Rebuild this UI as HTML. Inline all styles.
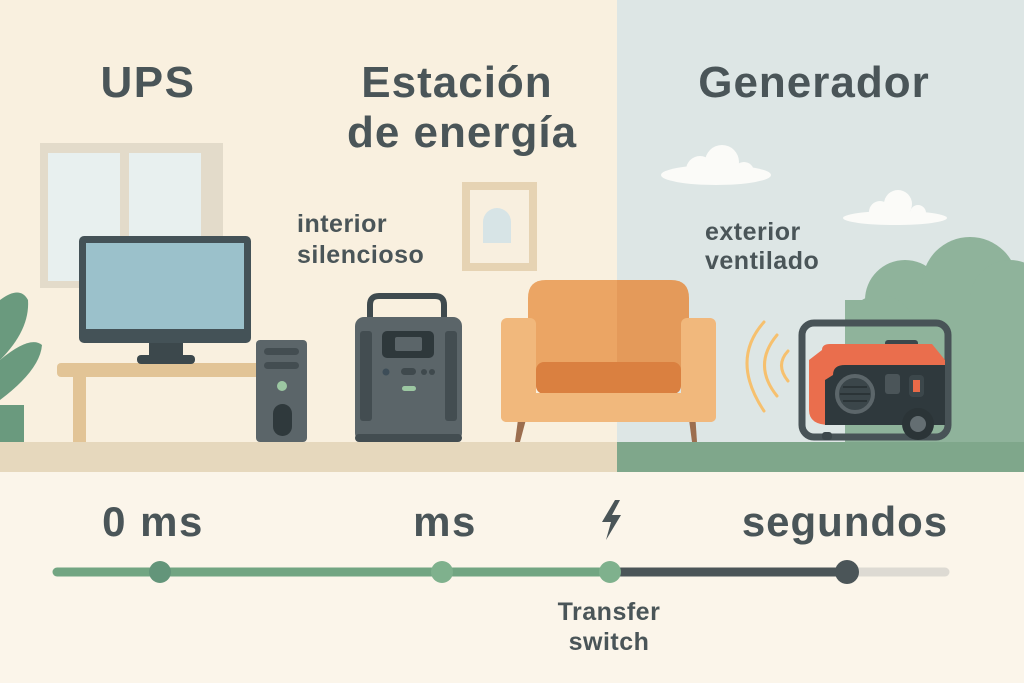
<!DOCTYPE html>
<html><head><meta charset="utf-8"><style>
html,body{margin:0;padding:0;width:1024px;height:683px;overflow:hidden;background:#fbf5ea}
svg{display:block}
text{font-family:"Liberation Sans",sans-serif;font-weight:bold;fill:#4a5558}
</style></head><body>
<svg width="1024" height="683" viewBox="0 0 1024 683" xmlns="http://www.w3.org/2000/svg">
<rect x="0" y="0" width="617" height="442" fill="#f9f0df"/>
<rect x="617" y="0" width="407" height="442" fill="#dde6e5"/>
<rect x="0" y="442" width="617" height="30" fill="#e6d8bd"/>
<rect x="617" y="442" width="407" height="30" fill="#7fa78b"/>
<rect x="0" y="472" width="1024" height="211" fill="#fbf5ea"/>
<!-- clouds -->
<g fill="#fbfbf8"><ellipse cx="716" cy="175" rx="55" ry="10"/><circle cx="700" cy="170" r="14"/><circle cx="722" cy="162" r="17"/><circle cx="744" cy="172" r="10"/>
<ellipse cx="895" cy="218" rx="52" ry="7"/><circle cx="880" cy="212" r="11"/><circle cx="898" cy="204" r="14"/><circle cx="918" cy="213" r="8"/></g>
<!-- bush -->
<g fill="#8fb39b"><circle cx="905" cy="300" r="40"/><circle cx="970" cy="285" r="48"/><circle cx="1010" cy="300" r="40"/><rect x="845" y="300" width="179" height="142"/><circle cx="880" cy="330" r="35"/></g>
<!-- window -->
<rect x="40" y="143" width="183" height="145" fill="#e3dbca"/>
<rect x="48" y="153" width="72" height="128" fill="#e8f0ef"/>
<rect x="129" y="153" width="72" height="128" fill="#e8f0ef"/>
<!-- picture frame -->
<rect x="462" y="182" width="75" height="89" fill="#e6d3b3"/>
<rect x="470" y="190" width="59" height="73" fill="#f8efdf"/>
<path d="M483 243 V222 a14 14 0 0 1 28 0 V243 Z" fill="#d7e4e6"/>
<!-- plant -->
<g fill="#6a9a7e"><path d="M0 300 Q20 285 28 300 Q30 330 0 360Z"/><path d="M0 360 Q30 335 42 345 Q40 370 0 400Z"/><rect x="0" y="405" width="24" height="37"/></g>
<!-- desk -->
<rect x="57" y="363" width="205" height="14" rx="4" fill="#e2c496"/>
<rect x="73" y="377" width="13" height="65" fill="#e2c496"/>
<!-- monitor -->
<rect x="79" y="236" width="172" height="107" rx="5" fill="#445257"/>
<rect x="86" y="243" width="158" height="86" fill="#9bc1cb"/>
<rect x="149" y="343" width="34" height="14" fill="#3c484c"/>
<rect x="137" y="355" width="58" height="9" rx="4" fill="#3c484c"/>
<!-- tower -->
<rect x="256" y="340" width="51" height="102" rx="4" fill="#5b6569"/>
<rect x="264" y="348" width="35" height="7" rx="3.5" fill="#434d51"/>
<rect x="264" y="362" width="35" height="7" rx="3.5" fill="#434d51"/>
<circle cx="282" cy="386" r="5" fill="#9cc7a2"/>
<rect x="273" y="404" width="19" height="32" rx="9.5" fill="#2f393c"/>
<!-- power station -->
<path d="M370 318 V305 q0-9 9-9 h56 q9 0 9 9 V318" fill="none" stroke="#3f4a4e" stroke-width="6"/>
<rect x="355" y="317" width="107" height="125" rx="9" fill="#5b6569"/>
<rect x="360" y="331" width="12" height="90" rx="3" fill="#434d51"/>
<rect x="445" y="331" width="12" height="90" rx="3" fill="#434d51"/>
<rect x="382" y="331" width="52" height="27" rx="5" fill="#2e383b"/>
<rect x="395" y="337" width="27" height="14" rx="2" fill="#5b6569"/>
<circle cx="386" cy="372" r="3.5" fill="#3d4d58"/>
<rect x="401" y="368" width="15" height="7" rx="3.5" fill="#3f494d"/>
<circle cx="424" cy="372" r="3" fill="#3f494d"/><circle cx="432" cy="372" r="3" fill="#3f494d"/>
<rect x="402" y="386" width="14" height="5" rx="2.5" fill="#9cc7a2"/>
<rect x="355" y="434" width="107" height="8" rx="4" fill="#434d51"/>
<!-- sofa -->
<path d="M519 412 l-4 30 h5 l8-30Z" fill="#9c6e4f"/><path d="M688 412 l4 30 h5 l-2-30Z" fill="#9c6e4f"/>
<path d="M528 380 V298 q0-18 18-18 H617 V380Z" fill="#eba564"/>
<path d="M617 280 H671 q18 0 18 18 V380 H617Z" fill="#e49a5a"/>
<rect x="501" y="318" width="35" height="104" rx="6" fill="#f1b87c"/>
<rect x="681" y="318" width="35" height="104" rx="6" fill="#f1b87c"/>
<rect x="536" y="362" width="145" height="32" rx="8" fill="#da8040"/>
<rect x="501" y="393" width="215" height="29" rx="5" fill="#f1b87c"/>
<!-- sound waves -->
<g fill="none" stroke="#f6c06e" stroke-width="3" stroke-linecap="round">
<path d="M764 322 Q730 360 764 411"/><path d="M777 335 Q752 365 777 396"/><path d="M788 351 Q775 365 788 381"/></g>
<!-- generator -->
<rect x="802" y="323" width="146" height="114" rx="12" fill="none" stroke="#485357" stroke-width="7"/>
<rect x="885" y="340" width="33" height="8" rx="3" fill="#3c474b"/>
<path d="M822 350 Q822 344 830 344 H932 L945 360 V425 H830 Q809 425 809 410 V360Z" fill="#ea6e4d"/>
<path d="M833 375 Q833 365 845 365 H945 V425 H825 V380Z" fill="#2f393d"/>
<circle cx="855" cy="394" r="18" fill="#3b464a" stroke="#5c666a" stroke-width="4"/>
<g stroke="#2b3437" stroke-width="2"><line x1="843" y1="387" x2="867" y2="387"/><line x1="840" y1="394" x2="870" y2="394"/><line x1="843" y1="401" x2="867" y2="401"/></g>
<rect x="885" y="374" width="15" height="20" rx="3" fill="#4b5559"/>
<rect x="909" y="375" width="15" height="22" rx="4" fill="#3c474b"/><rect x="913" y="380" width="7" height="12" fill="#e96a48"/>
<rect x="822" y="432" width="10" height="8" rx="3" fill="#3c474b"/>
<circle cx="918" cy="424" r="16" fill="#2b3437"/><circle cx="918" cy="424" r="8" fill="#646e72"/>
<!-- titles -->
<text x="148" y="97" font-size="44" letter-spacing="1.5" text-anchor="middle">UPS</text>
<text x="457" y="97" font-size="44" letter-spacing="1" text-anchor="middle">Estación</text>
<text x="462" y="147" font-size="44" letter-spacing="1" text-anchor="middle">de energía</text>
<text x="814" y="97" font-size="44" letter-spacing="1" text-anchor="middle">Generador</text>
<text x="297" y="232" font-size="25" letter-spacing="0.5">interior</text>
<text x="297" y="263" font-size="25" letter-spacing="0.5">silencioso</text>
<text x="705" y="240" font-size="25" letter-spacing="0.5">exterior</text>
<text x="705" y="269" font-size="25" letter-spacing="0.5">ventilado</text>
<!-- timeline labels -->
<text x="153" y="536" font-size="42" letter-spacing="1.5" text-anchor="middle">0 ms</text>
<text x="445" y="536" font-size="42" letter-spacing="1.5" text-anchor="middle">ms</text>
<text x="845" y="536" font-size="42" letter-spacing="1" text-anchor="middle">segundos</text>
<path d="M615 500 L602 522 H611 L606 540 L621 515 H612 L620 500Z" fill="#4a5558"/>
<line x1="612" y1="572" x2="945" y2="572" stroke="#dddad3" stroke-width="9" stroke-linecap="round"/>
<line x1="612" y1="572" x2="847" y2="572" stroke="#4b5558" stroke-width="9"/>
<line x1="57" y1="572" x2="612" y2="572" stroke="#72a582" stroke-width="9" stroke-linecap="round"/>
<circle cx="160" cy="572" r="11" fill="#63957a"/>
<circle cx="442" cy="572" r="11" fill="#7fb18d"/>
<circle cx="610" cy="572" r="11" fill="#7fb18d"/>
<circle cx="847" cy="572" r="12" fill="#4b5558"/>
<text x="609" y="620" font-size="25" letter-spacing="0.5" text-anchor="middle">Transfer</text>
<text x="609" y="650" font-size="25" letter-spacing="0.5" text-anchor="middle">switch</text>
</svg>
</body></html>
